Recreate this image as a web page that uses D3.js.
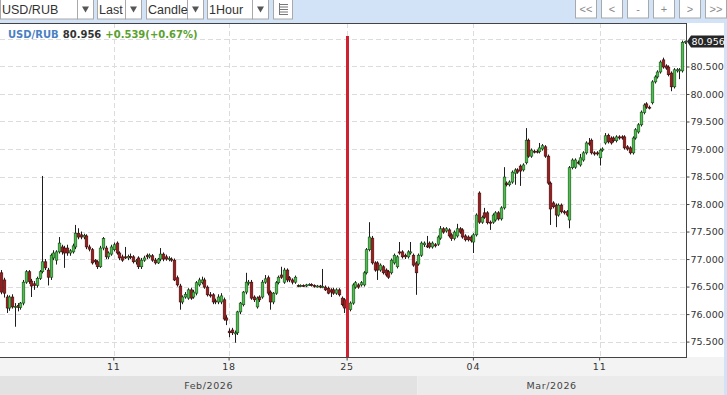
<!DOCTYPE html>
<html>
<head>
<meta charset="utf-8">
<script src="https://cdnjs.cloudflare.com/ajax/libs/d3/7.8.5/d3.min.js"></script>
<style>
    body { margin: 0; background: #fff; }
    svg { display: block; font-family: "DejaVu Sans", Verdana, sans-serif; }
</style>
</head>
<body>
<svg id="chart" width="727" height="395"></svg>
<script>
// hourly candles, [open, high, low, close]
var candles = [
    [76.75,76.80,76.36,76.40],[76.62,76.66,76.30,76.38],[76.31,76.35,76.02,76.11],[76.11,76.34,76.06,76.31],
    [76.31,76.36,76.10,76.13],[76.13,76.20,75.77,76.14],[76.16,76.20,76.05,76.12],[76.12,76.22,76.08,76.20],
    [76.20,76.62,76.16,76.58],[76.58,76.80,76.55,76.77],[76.77,76.80,76.55,76.59],[76.60,76.64,76.31,76.51],
    [76.55,76.60,76.44,76.52],[76.52,76.68,76.48,76.65],[76.65,76.80,76.62,76.77],[76.77,78.51,76.74,76.95],
    [76.95,77.00,76.80,76.84],[76.80,76.84,76.52,76.67],[76.67,77.10,76.62,77.07],[77.02,77.16,76.98,77.11],
    [76.98,77.16,76.90,77.13],[77.13,77.40,77.10,77.29],[77.22,77.26,77.08,77.13],[77.20,77.24,76.84,77.11],
    [77.20,77.26,77.06,77.11],[77.11,77.18,77.06,77.15],[77.13,77.28,77.10,77.24],[77.22,77.62,77.18,77.47],
    [77.47,77.56,77.36,77.40],[77.44,77.50,77.36,77.40],[77.40,77.46,77.36,77.43],[77.42,77.45,77.18,77.22],
    [77.22,77.26,77.14,77.18],[77.17,77.20,76.90,76.93],[76.98,77.00,76.90,76.95],[76.95,76.98,76.82,76.86],
    [76.86,77.24,76.84,77.20],[77.20,77.40,77.16,77.37],[77.20,77.24,77.00,77.04],[77.04,77.14,77.00,77.11],
    [77.09,77.26,77.06,77.22],
    [77.17,77.30,77.14,77.26],[77.29,77.32,77.08,77.11],[77.11,77.14,76.98,77.02],[77.04,77.08,76.95,76.98],
    [77.04,77.22,77.00,77.02],[77.02,77.08,76.98,77.05],[77.05,77.10,77.00,77.03],[77.04,77.07,76.92,76.95],
    [76.95,77.00,76.90,76.97],[77.02,77.05,76.82,76.86],[76.86,77.02,76.82,76.98],[76.98,77.06,76.95,77.02],
    [77.07,77.10,77.00,77.04],[77.04,77.10,77.01,77.07],[77.06,77.09,76.95,76.98],[76.98,77.02,76.90,76.93],
    [76.93,77.02,76.91,77.00],[77.00,77.20,76.96,77.09],[77.09,77.12,76.96,77.00],[77.04,77.08,76.97,77.00],
    [77.00,77.05,76.96,77.01],[77.00,77.03,76.95,76.98],[76.98,77.01,76.60,76.62],[76.66,76.70,76.50,76.53],
    [76.51,76.55,76.08,76.22],[76.22,76.34,76.18,76.31],[76.31,76.40,76.28,76.36],[76.29,76.47,76.26,76.44],
    [76.44,76.48,76.26,76.29],[76.31,76.44,76.28,76.40],
    [76.38,76.60,76.34,76.57],[76.53,76.66,76.50,76.62],[76.57,76.68,76.54,76.62],[76.62,76.66,76.46,76.49],
    [76.49,76.52,76.32,76.35],[76.35,76.40,76.30,76.33],[76.35,76.38,76.18,76.22],[76.24,76.28,76.18,76.22],
    [76.22,76.36,76.18,76.31],[76.22,76.38,76.18,76.33],[76.26,76.30,75.88,75.91],[75.93,75.98,75.80,75.89],
    [75.69,75.74,75.58,75.66],
    [75.71,75.75,75.62,75.66],[75.64,75.70,75.48,75.66],[75.66,76.06,75.62,76.04],[76.04,76.22,76.00,76.20],
    [76.17,76.42,76.14,76.40],[76.40,76.75,76.36,76.58],[76.57,76.62,76.52,76.58],[76.58,76.62,76.26,76.29],
    [76.31,76.34,76.22,76.26],[76.13,76.32,76.10,76.29],[76.31,76.34,76.22,76.26],[76.31,76.62,76.28,76.58],
    [76.58,76.71,76.55,76.64],[76.66,76.70,76.34,76.38],[76.40,76.43,76.08,76.22],[76.22,76.40,76.18,76.38],
    [76.38,76.60,76.35,76.57],[76.57,76.70,76.54,76.67],[76.71,76.86,76.64,76.67],[76.58,76.84,76.55,76.80],
    [76.80,76.83,76.58,76.62],[76.66,76.69,76.58,76.62],[76.62,76.65,76.54,76.58],[76.58,76.70,76.55,76.67],
    [76.52,76.54,76.49,76.51],[76.51,76.54,76.49,76.52],[76.52,76.54,76.49,76.51],[76.51,76.55,76.49,76.53],
    [76.53,76.56,76.51,76.54],[76.54,76.56,76.50,76.52],[76.52,76.54,76.48,76.50],[76.50,76.53,76.48,76.51],
    [76.51,76.53,76.47,76.49],[76.49,76.82,76.47,76.50],[76.49,76.52,76.42,76.44],[76.47,76.50,76.36,76.38],
    [76.44,76.47,76.31,76.40],[76.44,76.48,76.35,76.38],[76.38,76.47,76.35,76.44],[76.44,76.47,76.32,76.35],
    [76.29,76.32,76.14,76.17],[76.26,76.29,76.02,76.11],
    [76.11,76.15,76.03,76.08],
    [76.08,76.23,76.05,76.20],[76.20,76.56,76.17,76.53],[76.49,76.60,76.46,76.57],[76.53,76.56,76.46,76.49],
    [76.53,76.60,76.50,76.57],[76.53,76.78,76.50,76.75],[76.75,77.20,76.72,77.17],[77.17,77.67,77.14,77.40],
    [77.38,77.42,76.90,76.93],[76.93,76.96,76.77,76.80],[76.93,76.96,76.62,76.80],[76.80,76.92,76.77,76.89],
    [76.86,76.89,76.72,76.75],[76.80,76.83,76.68,76.71],[76.77,76.80,76.64,76.67],[76.75,77.01,76.72,76.98],
    [76.93,77.10,76.90,77.07],[76.86,77.07,76.83,77.04],[77.13,77.31,77.08,77.11],[77.13,77.16,77.01,77.04],
    [77.07,77.10,77.00,77.04],[77.04,77.16,77.01,77.13],[77.11,77.31,77.08,77.13],[77.07,77.10,76.86,76.89],
    [76.93,76.96,76.35,76.75],
    [76.91,77.10,76.88,77.07],[77.07,77.32,77.04,77.29],[77.26,77.32,77.22,77.29],[77.24,77.42,77.20,77.22],
    [77.29,77.32,77.19,77.22],[77.22,77.32,77.19,77.29],[77.26,77.29,77.21,77.24],[77.27,77.43,77.24,77.40],
    [77.38,77.60,77.35,77.55],[77.55,77.58,77.46,77.49],[77.51,77.58,77.48,77.55],[77.53,77.56,77.39,77.42],
    [77.44,77.47,77.33,77.37],[77.37,77.52,77.34,77.49],[77.42,77.64,77.39,77.55],[77.55,77.58,77.46,77.49],
    [77.53,77.56,77.37,77.40],[77.42,77.45,77.32,77.35],[77.40,77.43,77.32,77.35],[77.40,77.43,77.30,77.33],
    [77.31,77.47,77.11,77.44],
    [77.44,77.83,77.41,77.80],[78.20,78.23,77.64,77.67],[77.67,77.79,77.64,77.76],[77.84,77.93,77.73,77.76],
    [77.84,77.87,77.63,77.66],[77.67,77.70,77.53,77.66],[77.67,77.83,77.64,77.80],[77.71,77.87,77.68,77.84],
    [77.84,77.87,77.70,77.73],[77.73,77.96,77.70,77.93],[77.93,78.67,77.90,78.49],[78.38,78.41,78.32,78.35],
    [78.35,78.43,78.32,78.40],[78.40,78.61,78.37,78.58],[78.56,78.65,78.35,78.62],[78.62,78.65,78.55,78.58],
    [78.69,78.72,78.33,78.60],[78.62,78.74,78.59,78.71],[78.75,79.38,78.72,79.16],[79.16,79.19,78.84,78.87],
    [78.87,79.01,78.84,78.98],[78.96,78.99,78.92,78.95],[78.96,78.99,78.92,78.95],[78.95,79.11,78.92,79.02],
    [79.00,79.09,78.97,79.06],[79.04,79.07,78.84,78.87],[78.87,78.90,78.35,78.38],[78.38,78.41,77.62,77.91],
    [78.02,78.05,77.92,77.95],[77.98,78.01,77.58,77.80],[77.80,78.01,77.77,77.98],[77.98,78.01,77.83,77.86],
    [77.86,77.89,77.81,77.84],[77.86,77.89,77.77,77.80],[77.71,78.69,77.56,78.66],[78.66,78.83,78.63,78.80],
    [78.67,78.83,78.64,78.80],[78.76,78.79,78.72,78.75],[78.71,78.91,78.68,78.84],[78.80,78.96,78.77,78.93],
    [78.93,79.14,78.90,79.11],[79.11,79.20,79.06,79.09],[79.16,79.19,78.90,78.93],[78.93,78.96,78.88,78.91],
    [78.93,78.96,78.88,78.91],
    [78.84,79.01,78.70,78.98],[78.98,79.03,78.95,79.00],[79.11,79.29,79.08,79.24],[79.25,79.28,79.10,79.13],
    [79.20,79.23,79.08,79.11],[79.20,79.23,79.12,79.15],[79.15,79.25,79.12,79.22],[79.22,79.25,79.17,79.20],
    [79.22,79.25,79.17,79.20],[79.22,79.25,78.99,79.02],[79.04,79.07,78.97,79.00],[79.02,79.05,78.90,78.93],
    [78.93,79.23,78.90,79.20],[79.20,79.38,79.17,79.35],[79.31,79.47,79.28,79.44],[79.44,79.70,79.41,79.67],
    [79.66,79.83,79.63,79.80],[79.82,79.85,79.73,79.76],[79.76,79.79,79.72,79.75],[79.84,80.25,79.81,80.22],
    [80.22,80.34,80.19,80.31],[80.31,80.43,80.28,80.40],[80.40,80.61,80.37,80.58],[80.62,80.66,80.46,80.49],
    [80.51,80.54,80.44,80.47],[80.49,80.52,80.32,80.35],[80.38,80.41,80.05,80.13],[80.13,80.47,80.10,80.44],
    [80.42,80.47,80.39,80.44],[80.42,80.47,80.27,80.44],[80.42,80.97,80.39,80.94],[80.94,80.97,80.91,80.956]
];

var tickLabels = ["11", "18", "25", "04", "11"],
    tickIdx = [41, 83, 126, 172, 218];
var monthLabels = ["Feb/2026", "Mar/2026"],
    monthStart = [0, 152];
var markerIdx = 126;
var yTicks = [75.5, 76, 76.5, 77, 77.5, 78, 78.5, 79, 79.5, 80, 80.5],
    gridVals = [75.5, 76, 76.5, 77, 77.5, 78, 78.5, 79, 79.5, 80, 80.5, 81];
var symbol = "USD/RUB", lastPrice = 80.956, changeText = "+0.539(+0.67%)";

var W = 727, H = 395,
    plot = {left: 0, right: 686, top: 23, bottom: 357};

var svg = d3.select("#chart");

var xScale = d3.scaleBand()
    .domain(d3.range(candles.length))
    .range([plot.left, plot.right])
    .paddingInner(0.1);
var yScale = d3.scaleLinear()
    .domain([75.22, 81.29])
    .range([plot.bottom, plot.top]);

// backgrounds
svg.append("rect").attr("width", W).attr("height", H).attr("fill", "#fff");
svg.append("rect").attr("x", 0).attr("y", 0).attr("width", W).attr("height", plot.top).attr("fill", "#d2e3f7");
svg.append("rect").attr("x", W - 3).attr("y", 0).attr("width", 3).attr("height", H).attr("fill", "#d2e3f7");
svg.append("rect").attr("x", 0).attr("y", plot.bottom).attr("width", W - 3).attr("height", 19).attr("fill", "#f3f3f3");

// month band
var monthEnds = monthStart.slice(1).concat([candles.length]);
monthLabels.forEach(function (m, i) {
    var x0 = xScale(monthStart[i]),
        x1 = i == monthLabels.length - 1 ? W - 3 : xScale(monthEnds[i]);
    var xc = i == monthLabels.length - 1 ? (x0 + plot.right) / 2 : (x0 + x1) / 2;
    svg.append("rect")
        .attr("x", x0).attr("y", 376).attr("width", x1 - x0).attr("height", H - 376)
        .attr("fill", i % 2 == 0 ? "#e2e2e2" : "#ebebeb");
    svg.append("text")
        .attr("x", xc).attr("y", 389)
        .attr("text-anchor", "middle")
        .attr("font-size", 9.5)
        .attr("letter-spacing", 0.6)
        .attr("fill", "#444")
        .text(m);
});

// grid
svg.append("g").selectAll("line")
    .data(gridVals)
    .enter().append("line")
    .attr("x1", plot.left).attr("x2", plot.right)
    .attr("y1", function (d) { return Math.round(yScale(d)) + 0.5; })
    .attr("y2", function (d) { return Math.round(yScale(d)) + 0.5; })
    .attr("stroke", "#dcdcdc")
    .attr("stroke-dasharray", "5,3");
svg.append("g").selectAll("line")
    .data(tickIdx)
    .enter().append("line")
    .attr("x1", function (d) { return Math.round(xScale(d) + xScale.bandwidth() / 2) + 0.5; })
    .attr("x2", function (d) { return Math.round(xScale(d) + xScale.bandwidth() / 2) + 0.5; })
    .attr("y1", plot.top).attr("y2", plot.bottom)
    .attr("stroke", "#dcdcdc")
    .attr("stroke-dasharray", "5,3");

// candles
var cx = function (i) { return Math.round(xScale(i) + xScale.bandwidth() / 2) + 0.5; };
var candleG = svg.append("g");
candleG.selectAll("line.wick")
    .data(candles)
    .enter().append("line")
    .attr("class", "wick")
    .attr("x1", function (d, i) { return cx(i); })
    .attr("x2", function (d, i) { return cx(i); })
    .attr("y1", function (d) { return yScale(d[1]); })
    .attr("y2", function (d) { return yScale(d[2]); })
    .attr("stroke", "#1e1e1e")
    .attr("stroke-width", 1);
candleG.selectAll("rect.body")
    .data(candles)
    .enter().append("rect")
    .attr("class", "body")
    .attr("x", function (d, i) { return cx(i) - 1.3; })
    .attr("width", 2.6)
    .attr("y", function (d) { return yScale(Math.max(d[0], d[3])); })
    .attr("height", function (d) { return Math.max(1, Math.abs(yScale(d[0]) - yScale(d[3]))); })
    .attr("fill", function (d) { return d[3] >= d[0] ? "#4cc04c" : "#a01c1c"; })
    .attr("stroke", function (d) { return d[3] >= d[0] ? "#174a17" : "#3c0c0c"; })
    .attr("stroke-width", 0.6);

// marker line
svg.append("line")
    .attr("x1", cx(markerIdx)).attr("x2", cx(markerIdx))
    .attr("y1", 36).attr("y2", plot.bottom + 1)
    .attr("stroke", "#cf2131")
    .attr("stroke-width", 3);

// frame
svg.append("line").attr("x1", 0).attr("x2", plot.right).attr("y1", plot.top + 0.5).attr("y2", plot.top + 0.5)
    .attr("stroke", "#444");

// axes
var yAxis = d3.axisRight(yScale)
    .tickValues(yTicks)
    .tickFormat(d3.format(".3f"))
    .tickSize(3)
    .tickPadding(1);
var yG = svg.append("g")
    .attr("transform", "translate(" + (plot.right + 0.5) + ",0)")
    .call(yAxis);
yG.select(".domain").attr("stroke", "#444").attr("d", "M0," + plot.top + "V" + (plot.bottom + 1));
yG.selectAll(".tick line").attr("stroke", "#444");
yG.selectAll("text").attr("font-size", 9.5).attr("fill", "#333").attr("font-family", "DejaVu Sans, Verdana, sans-serif");

var xAxis = d3.axisBottom(xScale)
    .tickValues(tickIdx)
    .tickFormat(function (d, i) { return tickLabels[i]; })
    .tickSize(3)
    .tickPadding(3);
var xG = svg.append("g")
    .attr("transform", "translate(0," + (plot.bottom + 0.5) + ")")
    .call(xAxis);
xG.select(".domain").attr("stroke", "#444").attr("d", "M0,0H" + (plot.right + 0.5));
xG.selectAll(".tick line").attr("stroke", "#444");
xG.selectAll("text").attr("font-size", 9.5).attr("fill", "#333").attr("letter-spacing", 0.8)
    .attr("font-family", "DejaVu Sans, Verdana, sans-serif");

// last price tag
var py = yScale(lastPrice);
svg.append("path")
    .attr("d", "M" + (plot.right + 1) + "," + py + "L" + (plot.right + 5) + "," + (py - 6) + "H" + (W - 3) +
        "V" + (py + 6) + "H" + (plot.right + 5) + "Z")
    .attr("fill", "#262626");
svg.append("text")
    .attr("x", plot.right + 5.5).attr("y", py + 3.5)
    .attr("font-size", 9.5)
    .attr("fill", "#fff")
    .text(d3.format(".3f")(lastPrice));

// legend
var leg = svg.append("text").attr("x", 8).attr("y", 38).attr("font-size", 10).attr("font-weight", "bold");
leg.append("tspan").attr("fill", "#4b7fc4").text(symbol);
leg.append("tspan").attr("fill", "#333").attr("dx", 4).text(d3.format(".3f")(lastPrice));
leg.append("tspan").attr("fill", "#5aa12e").attr("dx", 4).text(changeText);

// toolbar
var tb = svg.append("g").attr("font-family", "Liberation Sans, Arial, sans-serif");
var selects = [
    {label: "USD/RUB", x: 0, w: 77},
    {label: "Last", x: 97, w: 28},
    {label: "Candle", x: 146, w: 41},
    {label: "1Hour", x: 207, w: 45}
];
selects.forEach(function (s) {
    tb.append("rect").attr("x", s.x + 0.5).attr("y", -1).attr("width", s.w).attr("height", 20)
        .attr("fill", "#fff").attr("stroke", "#a9a9a9");
    tb.append("rect").attr("x", s.x + s.w + 0.5).attr("y", -1).attr("width", 16).attr("height", 20)
        .attr("fill", "#fff").attr("stroke", "#a9a9a9");
    tb.append("text").attr("x", s.x + 2).attr("y", 13.5).attr("font-size", 12.5).attr("fill", "#333").text(s.label);
    tb.append("path")
        .attr("d", "M" + (s.x + s.w + 5) + ",6.5h7l-3.5,6z")
        .attr("fill", "#555");
});
tb.append("rect").attr("x", 273.5).attr("y", -1).attr("width", 19).attr("height", 20)
    .attr("fill", "#fff").attr("stroke", "#a9a9a9");
[4, 6.5, 9, 11.5, 14].forEach(function (yy) {
    tb.append("line").attr("x1", 279).attr("x2", 288).attr("y1", yy + 0.5).attr("y2", yy + 0.5)
        .attr("stroke", "#777").attr("stroke-width", 1);
});
tb.append("line").attr("x1", 279.5).attr("x2", 279.5).attr("y1", 3).attr("y2", 15).attr("stroke", "#777");

var navButtons = ["<<", "<", "-", "+", ">", ">>"];
navButtons.forEach(function (b, i) {
    var bx = 575 + i * 26;
    tb.append("rect").attr("x", bx + 0.5).attr("y", -1).attr("width", 21).attr("height", 19)
        .attr("fill", "#fff").attr("stroke", "#a9a9a9");
    tb.append("text").attr("x", bx + 11).attr("y", 12.5).attr("text-anchor", "middle")
        .attr("font-size", 11).attr("fill", "#888").text(b);
});
</script>
</body>
</html>
